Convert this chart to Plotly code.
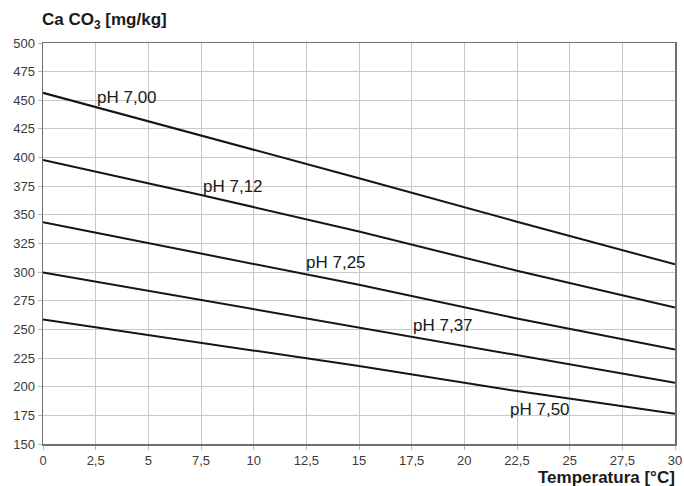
import plotly.graph_objects as go

temps = [0, 7.5, 15, 22.5, 30]
ph_700 = [456.5, 419.4, 382.0, 344.0, 306.8]
ph_712 = [398.0, 367.4, 335.5, 301.2, 269.2]
ph_725 = [343.5, 316.4, 289.0, 259.5, 232.4]
ph_737 = [299.8, 275.6, 252.0, 227.4, 203.5]
ph_750 = [258.7, 238.2, 218.0, 196.2, 176.4]

series = [ph_700, ph_712, ph_725, ph_737, ph_750]
labels = ["pH 7,00", "pH 7,12", "pH 7,25", "pH 7,37", "pH 7,50"]
label_x = [4.0, 9.0, 13.9, 19.0, 23.6]
label_y = [452, 375, 308, 253, 180]

x_ticks = [0, 2.5, 5, 7.5, 10, 12.5, 15, 17.5, 20, 22.5, 25, 27.5, 30]
x_ticktext = ["0", "2,5", "5", "7,5", "10", "12,5", "15", "17,5", "20", "22,5", "25", "27,5", "30"]
y_ticks = list(range(150, 501, 25))

FONT = "Liberation Sans, Arial"

fig = go.Figure()
for s in series:
    fig.add_trace(go.Scatter(x=temps, y=s, mode="lines",
                             line=dict(color="#151515", width=2),
                             showlegend=False, hoverinfo="skip"))

for t, lx, ly in zip(labels, label_x, label_y):
    fig.add_annotation(x=lx, y=ly, text=t, showarrow=False,
                       font=dict(family=FONT, size=17, color="#1a1a1a"))

fig.add_annotation(xref="paper", yref="paper", x=0, y=1, xanchor="left", yanchor="bottom",
                   yshift=9, xshift=-3,
                   text="<b>Ca CO<sub>3</sub> [mg/kg]</b>", showarrow=False,
                   font=dict(family=FONT, size=17, color="#1a1a1a"))
fig.add_annotation(xref="paper", yref="paper", x=1, y=0, xanchor="right", yanchor="top",
                   yshift=-22, xshift=2,
                   text="<b>Temperatura [°C]</b>", showarrow=False,
                   font=dict(family=FONT, size=17, color="#1a1a1a"))

axis_common = dict(showgrid=True, gridcolor="#c8c8c8", gridwidth=1,
                   showline=True, linecolor="#707070", linewidth=1.5, mirror=True,
                   ticks="outside", ticklen=4, tickcolor="#b8b8b8",
                   tickfont=dict(family=FONT, size=13, color="#3a3a3a"),
                   ticklabeloverflow="allow",
                   zeroline=False, automargin=False)

fig.update_xaxes(range=[0, 30], tickvals=x_ticks, ticktext=x_ticktext, **axis_common)
fig.update_yaxes(range=[150, 500], tickvals=y_ticks, **axis_common)

fig.update_layout(width=684, height=486,
                  margin=dict(l=43, r=9, t=43, b=42),
                  plot_bgcolor="white", paper_bgcolor="white")

# remove the default 8px page margin so the figure fills the window exactly
fig.write_html("out.html",
               config={"displayModeBar": False, "staticPlot": True},
               post_script="document.body.style.margin='0';document.body.style.overflow='hidden';")
